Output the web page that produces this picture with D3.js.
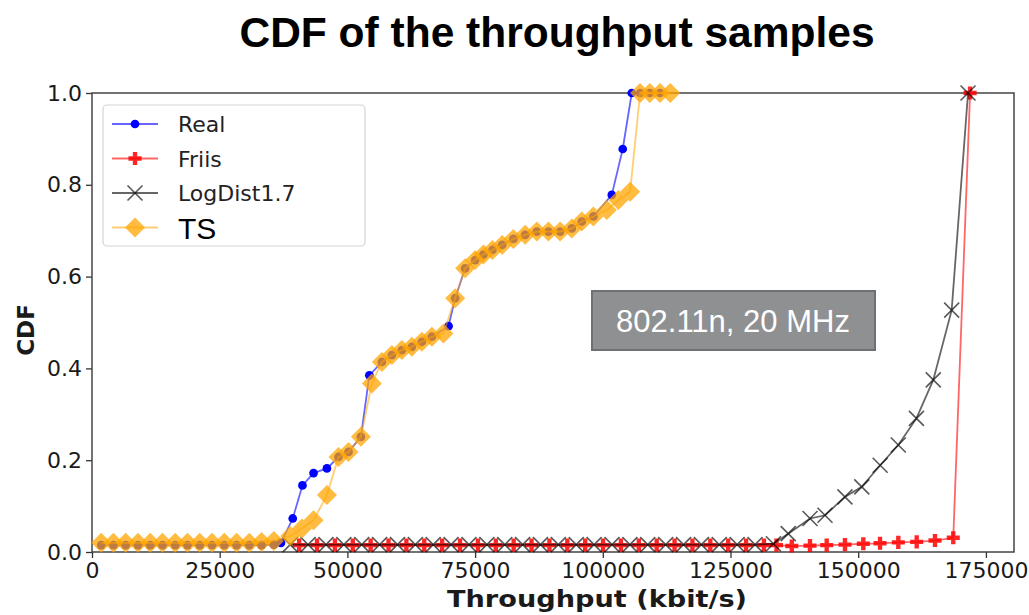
<!DOCTYPE html>
<html>
<head>
<meta charset="utf-8">
<script src="https://cdn.jsdelivr.net/npm/d3@7"></script>
<style>
  body { margin: 0; background: #fff; }
  svg { display: block; }
</style>
</head>
<body>
<div class="canvas"></div>
<script>
// data
const realX = [1800, 4200, 6600, 9000, 11400, 13800, 16300, 18700, 21100, 23500, 25900, 28300, 30800, 33200, 35600, 37000,
  39300, 41200, 43370, 45990, 48260, 50220, 52640, 54300, 56750, 58710, 60660, 62620, 64580, 66540, 69800, 71100, 73050,
  75010, 76630, 78400, 80300, 82500, 84800, 87080, 89360, 91640, 93930, 95890, 98160, 101760, 103900, 105670, 107300, 109200, 111200];
const realY = [0.015, 0.015, 0.015, 0.015, 0.015, 0.015, 0.015, 0.015, 0.015, 0.015, 0.015, 0.015, 0.015, 0.015, 0.016, 0.02,
  0.073, 0.145, 0.172, 0.182, 0.207, 0.218, 0.251, 0.385, 0.414, 0.429, 0.44, 0.447, 0.458, 0.469, 0.492, 0.553, 0.618,
  0.636, 0.648, 0.658, 0.669, 0.682, 0.691, 0.698, 0.698, 0.698, 0.705, 0.72, 0.731, 0.778, 0.878, 1.0, 1.0, 1.0, 1.0];

const friisX = [40550, 44050, 47550, 51050, 54550, 58050, 61550, 65050, 68550, 72050, 75550, 79050, 82550, 86050, 89550,
  93050, 96550, 100050, 103550, 107050, 110550, 114050, 117550, 121050, 124550, 128050, 131550, 134000, 137000, 140560,
  143830, 147410, 151000, 154270, 157850, 161450, 165030, 168610, 171900];
const friisY = [0.015, 0.015, 0.015, 0.015, 0.015, 0.015, 0.015, 0.015, 0.015, 0.015, 0.015, 0.015, 0.015, 0.015, 0.015,
  0.015, 0.015, 0.015, 0.015, 0.015, 0.015, 0.015, 0.015, 0.015, 0.015, 0.015, 0.015, 0.015, 0.013, 0.014,
  0.015, 0.016, 0.018, 0.019, 0.021, 0.022, 0.025, 0.031, 1.0];

const logX = [38800, 42300, 45800, 49300, 52800, 56300, 59800, 63300, 66800, 70300, 73800, 77300, 80800, 84300, 87800,
  91300, 94800, 98300, 101800, 105300, 108800, 112300, 115800, 119300, 122800, 126300, 129800, 133400, 136300, 140570,
  143500, 147400, 150700, 154300, 157850, 161400, 164700, 168300, 171500];
const logY = [0.016, 0.016, 0.016, 0.016, 0.016, 0.016, 0.016, 0.016, 0.016, 0.016, 0.016, 0.016, 0.016, 0.016, 0.016,
  0.016, 0.016, 0.016, 0.016, 0.016, 0.016, 0.016, 0.016, 0.016, 0.016, 0.016, 0.016, 0.018, 0.04, 0.073,
  0.08, 0.12, 0.142, 0.189, 0.233, 0.291, 0.375, 0.527, 1.0];

const tsX = [1800, 4200, 6600, 9000, 11400, 13800, 16300, 18700, 21100, 23500, 25900, 28300, 30800, 33200, 35600, 38800,
  41100, 43370, 45990, 48260, 50220, 52640, 54790, 56750, 58710, 60660, 62620, 64580, 66540, 68800, 71100, 73050,
  75010, 76630, 78400, 80300, 82500, 84800, 87080, 89360, 91640, 93930, 95890, 98160, 100780, 103050, 105350,
  107300, 109200, 111200, 113200];
const tsY = [0.02, 0.02, 0.02, 0.02, 0.02, 0.02, 0.02, 0.02, 0.02, 0.02, 0.02, 0.02, 0.02, 0.022, 0.024, 0.035,
  0.051, 0.069, 0.124, 0.207, 0.218, 0.251, 0.367, 0.414, 0.429, 0.44, 0.447, 0.458, 0.469, 0.476, 0.553, 0.618,
  0.636, 0.648, 0.658, 0.669, 0.682, 0.691, 0.698, 0.698, 0.698, 0.705, 0.72, 0.731, 0.745, 0.767, 0.785,
  1.0, 1.0, 1.0, 1.0];

const xTicks = [0, 25000, 50000, 75000, 100000, 125000, 150000, 175000];
const yTicks = [0, 0.2, 0.4, 0.6, 0.8, 1.0];
const seriesNames = ['Real', 'Friis', 'LogDist1.7', 'TS'];

const dims = {width: 1029, height: 615};
const plot = {left: 92, right: 1014, top: 93, bottom: 552};

const svg = d3.select('.canvas')
  .append('svg')
  .attr('width', dims.width)
  .attr('height', dims.height);

const x = d3.scaleLinear().domain([0, 180500]).range([plot.left, plot.right]);
const y = d3.scaleLinear().domain([0, 1]).range([plot.bottom, plot.top]);

// title
svg.append('text')
  .attr('x', 557).attr('y', 47)
  .attr('text-anchor', 'middle')
  .attr('font-family', 'Liberation Sans, Arial, sans-serif')
  .attr('font-weight', 'bold')
  .attr('font-size', 42.5)
  .attr('fill', '#000')
  .text('CDF of the throughput samples');

// axes
const xAxis = svg.append('g')
  .attr('transform', `translate(0, ${plot.bottom})`)
  .call(d3.axisBottom(x).tickValues(xTicks).tickFormat(d3.format('d')).tickSize(6).tickPadding(4));
const yAxis = svg.append('g')
  .attr('transform', `translate(${plot.left}, 0)`)
  .call(d3.axisLeft(y).tickValues(yTicks).tickFormat(d3.format('.1f')).tickSize(6).tickPadding(4));

[xAxis, yAxis].forEach(a => {
  a.select('.domain').remove();
  a.selectAll('.tick line').attr('stroke', '#333').attr('stroke-width', 1.3);
  a.selectAll('.tick text')
    .attr('font-family', 'DejaVu Sans, sans-serif')
    .attr('font-size', 22)
    .attr('fill', '#1a1a1a');
});

// frame
svg.append('rect')
  .attr('x', plot.left).attr('y', plot.top)
  .attr('width', plot.right - plot.left)
  .attr('height', plot.bottom - plot.top)
  .attr('fill', 'none')
  .attr('stroke', '#444')
  .attr('stroke-width', 1.5);

// axis labels
svg.append('text')
  .attr('x', 597).attr('y', 607)
  .attr('text-anchor', 'middle')
  .attr('font-family', 'DejaVu Sans, sans-serif')
  .attr('font-weight', 'bold')
  .attr('font-size', 23)
  .attr('textLength', 300)
  .attr('lengthAdjust', 'spacingAndGlyphs')
  .attr('fill', '#1a1a1a')
  .text('Throughput (kbit/s)');

svg.append('text')
  .attr('transform', 'translate(34, 330) rotate(-90)')
  .attr('text-anchor', 'middle')
  .attr('font-family', 'DejaVu Sans, sans-serif')
  .attr('font-weight', 'bold')
  .attr('font-size', 23)
  .attr('fill', '#1a1a1a')
  .text('CDF');

// marker shapes
const xMark = s => `M${-s},${-s}L${s},${s}M${-s},${s}L${s},${-s}`;
const diamond = d3.symbol().type(d3.symbolSquare).size(200)();
const plus = d3.symbol().type(d3.symbolCross).size(95)();
const dot = d3.symbol().type(d3.symbolCircle).size(60)();

const series = [
  {name: seriesNames[0], xs: realX, ys: realY, color: '#0000ff', lineOp: 0.6, lw: 1.8,
    mark: g => g.append('path').attr('d', dot).attr('fill', '#0000ff')},
  {name: seriesNames[1], xs: friisX, ys: friisY, color: '#ff0000', lineOp: 0.6, lw: 1.8,
    mark: g => g.append('path').attr('d', plus).attr('fill', '#ff0000').attr('opacity', 0.85)},
  {name: seriesNames[2], xs: logX, ys: logY, color: '#000000', lineOp: 0.6, lw: 1.8,
    mark: g => g.append('path').attr('d', xMark(7.5)).attr('fill', 'none').attr('stroke', '#000').attr('stroke-opacity', 0.65).attr('stroke-width', 1.6)},
  {name: seriesNames[3], xs: tsX, ys: tsY, color: '#ffa500', lineOp: 0.55, lw: 1.8,
    mark: g => g.append('path').attr('d', diamond).attr('transform', 'rotate(45)').attr('fill', '#ffa500').attr('opacity', 0.75)}
];

const line = d3.line().x(d => x(d[0])).y(d => y(d[1]));

const chart = svg.append('g');
series.forEach(s => {
  const pts = s.xs.map((v, i) => [v, s.ys[i]]);
  chart.append('path')
    .datum(pts)
    .attr('d', line)
    .attr('fill', 'none')
    .attr('stroke', s.color)
    .attr('stroke-opacity', s.lineOp)
    .attr('stroke-width', s.lw);
  chart.append('g').selectAll('g')
    .data(pts)
    .enter()
    .append('g')
    .attr('transform', d => `translate(${x(d[0])}, ${y(d[1])})`)
    .each(function() { s.mark(d3.select(this)); });
});

// legend
const legend = svg.append('g');
legend.append('rect')
  .attr('x', 103).attr('y', 105)
  .attr('width', 262).attr('height', 141)
  .attr('rx', 4)
  .attr('fill', '#fff').attr('fill-opacity', 0.85)
  .attr('stroke', '#d4d4d4').attr('stroke-width', 1.2);

series.forEach((s, i) => {
  const ly = 124 + i * 34.5;
  legend.append('line')
    .attr('x1', 112).attr('x2', 158)
    .attr('y1', ly).attr('y2', ly)
    .attr('stroke', s.color)
    .attr('stroke-opacity', s.lineOp)
    .attr('stroke-width', s.lw);
  s.mark(legend.append('g').attr('transform', `translate(135, ${ly})`));
  const isTS = s.name === 'TS';
  legend.append('text')
    .attr('x', 178).attr('y', ly + (isTS ? 11 : 8))
    .attr('font-family', isTS ? 'Liberation Sans, Arial, sans-serif' : 'DejaVu Sans, sans-serif')
    .attr('font-size', isTS ? 30 : 22)
    .attr('fill', isTS ? '#000' : '#222')
    .text(s.name);
});

// annotation box
svg.append('rect')
  .attr('x', 592).attr('y', 291)
  .attr('width', 283).attr('height', 59)
  .attr('fill', '#8f9092')
  .attr('stroke', '#6f7072').attr('stroke-width', 2);
svg.append('text')
  .attr('x', 733).attr('y', 332)
  .attr('text-anchor', 'middle')
  .attr('font-family', 'Liberation Sans, Arial, sans-serif')
  .attr('font-size', 31)
  .attr('fill', '#fff')
  .text('802.11n, 20 MHz');
</script>
</body>
</html>
